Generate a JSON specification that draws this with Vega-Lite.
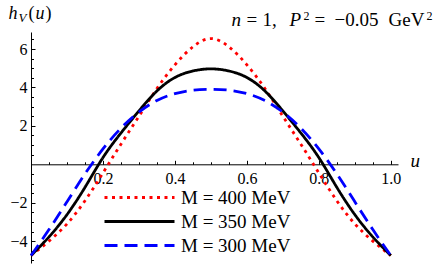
{
  "$schema": "https://vega.github.io/schema/vega-lite/v6.json",
  "width": 367,
  "height": 231,
  "autosize": "none",
  "padding": {"left": 31, "top": 32, "right": 38, "bottom": 8},
  "background": "white",
  "config": {"view": {"stroke": null}, "font": "Times New Roman, Liberation Serif, serif",
    "axis": {"titleFont": "Times New Roman, Liberation Serif, serif", "labelFont": "Times New Roman, Liberation Serif, serif", "titleFontWeight": "normal", "titleColor": "black", "titleAngle": 0, "titleAlign": "left", "titleBaseline": "alphabetic"},
    "legend": {"labelFont": "Times New Roman, Liberation Serif, serif"}},
  "datasets": {
    "curves": [
      {"u": 0, "h": -4.75, "s": "M = 400  MeV"}, {"u": 0.05, "h": -4.0, "s": "M = 400  MeV"}, {"u": 0.1, "h": -3.1, "s": "M = 400  MeV"}, {"u": 0.15, "h": -1.9, "s": "M = 400  MeV"}, {"u": 0.2, "h": -0.45, "s": "M = 400  MeV"}, {"u": 0.25, "h": 1.05, "s": "M = 400  MeV"}, {"u": 0.3, "h": 2.5, "s": "M = 400  MeV"}, {"u": 0.35, "h": 3.95, "s": "M = 400  MeV"}, {"u": 0.4, "h": 5.18, "s": "M = 400  MeV"}, {"u": 0.45, "h": 6.12, "s": "M = 400  MeV"}, {"u": 0.5, "h": 6.55, "s": "M = 400  MeV"}, {"u": 0.55, "h": 6.12, "s": "M = 400  MeV"}, {"u": 0.6, "h": 5.18, "s": "M = 400  MeV"}, {"u": 0.65, "h": 3.95, "s": "M = 400  MeV"}, {"u": 0.7, "h": 2.5, "s": "M = 400  MeV"}, {"u": 0.75, "h": 1.05, "s": "M = 400  MeV"}, {"u": 0.8, "h": -0.45, "s": "M = 400  MeV"}, {"u": 0.85, "h": -1.9, "s": "M = 400  MeV"}, {"u": 0.9, "h": -3.1, "s": "M = 400  MeV"}, {"u": 0.95, "h": -4.0, "s": "M = 400  MeV"}, {"u": 1, "h": -4.75, "s": "M = 400  MeV"},
      {"u": 0, "h": -4.75, "s": "M = 350  MeV"}, {"u": 0.05, "h": -3.78, "s": "M = 350  MeV"}, {"u": 0.1, "h": -2.62, "s": "M = 350  MeV"}, {"u": 0.15, "h": -1.2, "s": "M = 350  MeV"}, {"u": 0.2, "h": 0.35, "s": "M = 350  MeV"}, {"u": 0.25, "h": 1.63, "s": "M = 350  MeV"}, {"u": 0.3, "h": 2.78, "s": "M = 350  MeV"}, {"u": 0.35, "h": 3.82, "s": "M = 350  MeV"}, {"u": 0.4, "h": 4.52, "s": "M = 350  MeV"}, {"u": 0.45, "h": 4.86, "s": "M = 350  MeV"}, {"u": 0.5, "h": 4.97, "s": "M = 350  MeV"}, {"u": 0.55, "h": 4.86, "s": "M = 350  MeV"}, {"u": 0.6, "h": 4.52, "s": "M = 350  MeV"}, {"u": 0.65, "h": 3.82, "s": "M = 350  MeV"}, {"u": 0.7, "h": 2.78, "s": "M = 350  MeV"}, {"u": 0.75, "h": 1.63, "s": "M = 350  MeV"}, {"u": 0.8, "h": 0.35, "s": "M = 350  MeV"}, {"u": 0.85, "h": -1.2, "s": "M = 350  MeV"}, {"u": 0.9, "h": -2.62, "s": "M = 350  MeV"}, {"u": 0.95, "h": -3.78, "s": "M = 350  MeV"}, {"u": 1, "h": -4.75, "s": "M = 350  MeV"},
      {"u": 0, "h": -4.75, "s": "M = 300  MeV"}, {"u": 0.05, "h": -3.4, "s": "M = 300  MeV"}, {"u": 0.1, "h": -1.95, "s": "M = 300  MeV"}, {"u": 0.15, "h": -0.5, "s": "M = 300  MeV"}, {"u": 0.2, "h": 0.8, "s": "M = 300  MeV"}, {"u": 0.25, "h": 1.88, "s": "M = 300  MeV"}, {"u": 0.3, "h": 2.72, "s": "M = 300  MeV"}, {"u": 0.35, "h": 3.32, "s": "M = 300  MeV"}, {"u": 0.4, "h": 3.68, "s": "M = 300  MeV"}, {"u": 0.45, "h": 3.86, "s": "M = 300  MeV"}, {"u": 0.5, "h": 3.9, "s": "M = 300  MeV"}, {"u": 0.55, "h": 3.86, "s": "M = 300  MeV"}, {"u": 0.6, "h": 3.68, "s": "M = 300  MeV"}, {"u": 0.65, "h": 3.32, "s": "M = 300  MeV"}, {"u": 0.7, "h": 2.72, "s": "M = 300  MeV"}, {"u": 0.75, "h": 1.88, "s": "M = 300  MeV"}, {"u": 0.8, "h": 0.8, "s": "M = 300  MeV"}, {"u": 0.85, "h": -0.5, "s": "M = 300  MeV"}, {"u": 0.9, "h": -1.95, "s": "M = 300  MeV"}, {"u": 0.95, "h": -3.4, "s": "M = 300  MeV"}, {"u": 1, "h": -4.75, "s": "M = 300  MeV"}
    ]
  },
  "data": {"name": "curves"},
  "resolve": {"axis": {"x": "independent", "y": "independent"}},
  "layer": [
    {
      "mark": {"type": "line", "strokeWidth": 2.8, "interpolate": "natural", "strokeCap": "butt"},
      "encoding": {
        "x": {"field": "u", "type": "quantitative",
          "scale": {"domain": [0, 1.02], "nice": false, "zero": false},
          "axis": {"orient": "bottom", "offset": -98.7, "title": "u", "titleFontStyle": "italic", "titleFontSize": 19, "titleX": 379, "titleY": 2,
            "values": [0.05, 0.1, 0.15, 0.2, 0.25, 0.3, 0.35, 0.4, 0.45, 0.5, 0.55, 0.6, 0.65, 0.7, 0.75, 0.8, 0.85, 0.9, 0.95, 1.0],
            "labelExpr": "abs(datum.value*5 - round(datum.value*5)) < 0.001 ? format(datum.value, '.1f') : ''",
            "tickSize": {"condition": {"test": "abs(datum.value*5 - round(datum.value*5)) < 0.001", "value": -4}, "value": -2.5},
            "tickColor": "black", "tickWidth": 1, "domainColor": "black", "domainWidth": 1, "grid": false,
            "labelFontSize": 16, "labelColor": "black", "labelPadding": 10, "labelFlush": false, "labelOverlap": false}},
        "y": {"field": "h", "type": "quantitative",
          "scale": {"domain": [-5.14, 6.89], "nice": false, "zero": false},
          "axis": {"orient": "left", "title": "h", "titleFontStyle": "italic", "titleFontSize": 18, "titleX": -23, "titleY": -14,
            "values": [-5, -4.5, -4, -3.5, -3, -2.5, -2, -1.5, -1, -0.5, 0.5, 1, 1.5, 2, 2.5, 3, 3.5, 4, 4.5, 5, 5.5, 6, 6.5],
            "labelExpr": "abs(datum.value/2 - round(datum.value/2)) < 0.001 ? format(datum.value, 'd') : ''",
            "tickSize": {"condition": {"test": "abs(datum.value/2 - round(datum.value/2)) < 0.001", "value": -4}, "value": -2.5},
            "tickColor": "black", "tickWidth": 1, "domainColor": "black", "domainWidth": 1, "grid": false,
            "labelFontSize": 16, "labelColor": "black", "labelPadding": 8, "labelFlush": false, "labelOverlap": false}},
        "color": {"field": "s", "type": "nominal",
          "scale": {"domain": ["M = 400  MeV", "M = 350  MeV", "M = 300  MeV"], "range": ["#ff0000", "#000000", "#0000ff"]},
          "legend": {"title": null, "orient": "none", "legendX": 97, "legendY": 154, "padding": 0, "symbolType": "M-3.5,0H3.5", "symbolSize": 400, "symbolStrokeWidth": 3, "labelFont": "Times New Roman, Liberation Serif, serif", "labelFontSize": 19, "labelColor": "black", "labelOffset": 30, "rowPadding": 2}},
        "strokeDash": {"field": "s", "type": "nominal",
          "scale": {"domain": ["M = 400  MeV", "M = 350  MeV", "M = 300  MeV"], "range": [[3, 4.5], [1, 0], [13, 7]]},
          "legend": {"title": null, "orient": "none", "legendX": 97, "legendY": 154, "padding": 0, "symbolType": "M-3.5,0H3.5", "symbolSize": 400, "symbolStrokeWidth": 3, "labelFont": "Times New Roman, Liberation Serif, serif", "labelFontSize": 19, "labelColor": "black", "labelOffset": 30, "rowPadding": 2}}
      }
    },
    {"mark": {"type": "line", "opacity": 0}, "encoding": {"x": {"field": "u", "type": "quantitative", "axis": null},
      "y": {"field": "h", "type": "quantitative", "axis": {"orient": "left", "domain": false, "ticks": false, "labels": false, "grid": false, "title": "V", "titleFontStyle": "italic", "titleFontSize": 13, "titleX": -13, "titleY": -10.5}}}},
    {"mark": {"type": "line", "opacity": 0}, "encoding": {"x": {"field": "u", "type": "quantitative", "axis": null},
      "y": {"field": "h", "type": "quantitative", "axis": {"orient": "left", "domain": false, "ticks": false, "labels": false, "grid": false, "title": "(", "titleFontSize": 18, "titleX": -3, "titleY": -14}}}},
    {"mark": {"type": "line", "opacity": 0}, "encoding": {"x": {"field": "u", "type": "quantitative", "axis": null},
      "y": {"field": "h", "type": "quantitative", "axis": {"orient": "left", "domain": false, "ticks": false, "labels": false, "grid": false, "title": "u", "titleFontStyle": "italic", "titleFontSize": 18, "titleX": 4, "titleY": -14}}}},
    {"mark": {"type": "line", "opacity": 0}, "encoding": {"x": {"field": "u", "type": "quantitative", "axis": null},
      "y": {"field": "h", "type": "quantitative", "axis": {"orient": "left", "domain": false, "ticks": false, "labels": false, "grid": false, "title": ")", "titleFontSize": 18, "titleX": 14, "titleY": -14}}}},
    {"mark": {"type": "line", "opacity": 0}, "encoding": {"x": {"field": "u", "type": "quantitative", "axis": null},
      "y": {"field": "h", "type": "quantitative", "axis": {"orient": "right", "domain": false, "ticks": false, "labels": false, "grid": false, "title": "n", "titleFontStyle": "italic", "titleFontSize": 19, "titleX": -167, "titleY": -7}}}},
    {"mark": {"type": "line", "opacity": 0}, "encoding": {"x": {"field": "u", "type": "quantitative", "axis": null},
      "y": {"field": "h", "type": "quantitative", "axis": {"orient": "right", "domain": false, "ticks": false, "labels": false, "grid": false, "title": "=", "titleFontSize": 19, "titleX": -152, "titleY": -7}}}},
    {"mark": {"type": "line", "opacity": 0}, "encoding": {"x": {"field": "u", "type": "quantitative", "axis": null},
      "y": {"field": "h", "type": "quantitative", "axis": {"orient": "right", "domain": false, "ticks": false, "labels": false, "grid": false, "title": "1,", "titleFontSize": 19, "titleX": -136, "titleY": -7}}}},
    {"mark": {"type": "line", "opacity": 0}, "encoding": {"x": {"field": "u", "type": "quantitative", "axis": null},
      "y": {"field": "h", "type": "quantitative", "axis": {"orient": "right", "domain": false, "ticks": false, "labels": false, "grid": false, "title": "P", "titleFontStyle": "italic", "titleFontSize": 19, "titleX": -109, "titleY": -7}}}},
    {"mark": {"type": "line", "opacity": 0}, "encoding": {"x": {"field": "u", "type": "quantitative", "axis": null},
      "y": {"field": "h", "type": "quantitative", "axis": {"orient": "right", "domain": false, "ticks": false, "labels": false, "grid": false, "title": "2", "titleFontSize": 12, "titleX": -95, "titleY": -13}}}},
    {"mark": {"type": "line", "opacity": 0}, "encoding": {"x": {"field": "u", "type": "quantitative", "axis": null},
      "y": {"field": "h", "type": "quantitative", "axis": {"orient": "right", "domain": false, "ticks": false, "labels": false, "grid": false, "title": "=", "titleFontSize": 19, "titleX": -84, "titleY": -7}}}},
    {"mark": {"type": "line", "opacity": 0}, "encoding": {"x": {"field": "u", "type": "quantitative", "axis": null},
      "y": {"field": "h", "type": "quantitative", "axis": {"orient": "right", "domain": false, "ticks": false, "labels": false, "grid": false, "title": "−0.05", "titleFontSize": 19, "titleX": -64, "titleY": -7}}}},
    {"mark": {"type": "line", "opacity": 0}, "encoding": {"x": {"field": "u", "type": "quantitative", "axis": null},
      "y": {"field": "h", "type": "quantitative", "axis": {"orient": "right", "domain": false, "ticks": false, "labels": false, "grid": false, "title": "GeV", "titleFontSize": 19, "titleX": -10, "titleY": -7}}}},
    {"mark": {"type": "line", "opacity": 0}, "encoding": {"x": {"field": "u", "type": "quantitative", "axis": null},
      "y": {"field": "h", "type": "quantitative", "axis": {"orient": "right", "domain": false, "ticks": false, "labels": false, "grid": false, "title": "2", "titleFontSize": 12, "titleX": 28, "titleY": -13}}}}
  ]
}
